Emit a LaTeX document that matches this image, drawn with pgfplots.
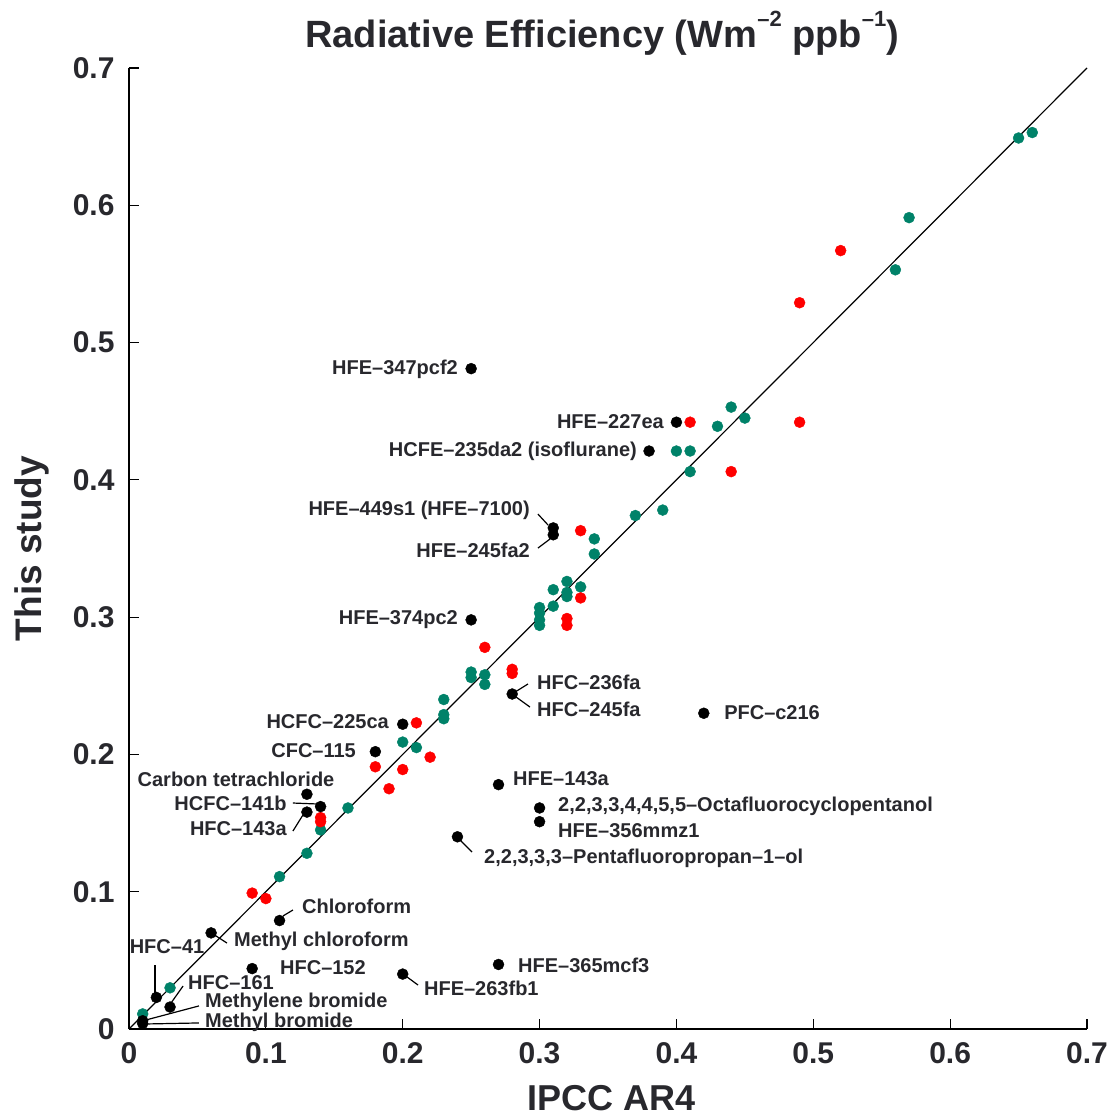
\documentclass[border=0pt]{standalone}
\usepackage{fontspec}
\setmainfont{Liberation Sans}
\usepackage{pgfplots}
\pgfplotsset{compat=1.18}
\definecolor{tealdot}{RGB}{0,130,105}
\definecolor{reddot}{RGB}{255,0,0}
\definecolor{txt}{RGB}{40,40,45}
\newcommand{\lbl}{\fontsize{20}{24}\selectfont\bfseries}
\newcommand{\sups}[1]{\raisebox{0.55em}{\fontsize{22}{24}\selectfont #1}}
\begin{document}
\begin{tikzpicture}
\begin{axis}[
  scale only axis, width=958pt, height=961pt,
  xmin=0, xmax=0.7, ymin=0, ymax=0.7,
  axis lines=left, axis line style={-, line width=1.1pt, black},
  xtick={0,0.1,0.2,0.3,0.4,0.5,0.6,0.7},
  ytick={0,0.1,0.2,0.3,0.4,0.5,0.6,0.7},
  xticklabels={0,0.1,0.2,0.3,0.4,0.5,0.6,0.7},
  yticklabels={0,0.1,0.2,0.3,0.4,0.5,0.6,0.7},
  tick align=inside, major tick length=10pt,
  tick style={line width=1.1pt, black},
  ticklabel style={font=\fontsize{30}{34}\selectfont\bfseries, text=txt},
  xticklabel style={yshift=-10pt},
  yticklabel style={xshift=-11pt},
  clip=false,
  title={Radiative Efficiency (Wm\sups{--2} ppb\sups{--1})},
  title style={at={(axis description cs:0.494,1.030)}, anchor=center,
    font=\fontsize{38}{44}\selectfont\bfseries, text=txt},
  xlabel={IPCC AR4},
  ylabel={This study},
  every axis x label/.style={at={(axis description cs:0.504,-0.0718)}, anchor=center,
    font=\fontsize{36}{42}\selectfont\bfseries, text=txt},
  every axis y label/.style={at={(axis description cs:-0.1013,0.5)}, anchor=center, rotate=90,
    font=\fontsize{37}{42}\selectfont\bfseries, text=txt},
]
\addplot[black, line width=1.2pt] coordinates {(0,0) (0.7,0.7)};

% leader lines
\begin{scope}[line width=1.2pt, black]
\draw (axis cs:0.2988,0.3751) -- (axis cs:0.3062,0.3671);
\draw (axis cs:0.2988,0.3503) -- (axis cs:0.3076,0.3569);
\draw (axis cs:0.2798,0.2440) -- (axis cs:0.2915,0.2513);
\draw (axis cs:0.2798,0.2440) -- (axis cs:0.2930,0.2345);
\draw (axis cs:0.1198,0.1646) -- (axis cs:0.1374,0.1639);
\draw (axis cs:0.1198,0.1442) -- (axis cs:0.1271,0.1559);
\draw (axis cs:0.2397,0.1398) -- (axis cs:0.2506,0.1289);
\draw (axis cs:0.1125,0.0823) -- (axis cs:0.1198,0.0867);
\draw (axis cs:0.0592,0.0706) -- (axis cs:0.0716,0.0626);
\draw (axis cs:0.2002,0.0401) -- (axis cs:0.2112,0.0320);
\draw (axis cs:0.0190,0.0466) -- (axis cs:0.0190,0.0240);
\draw (axis cs:0.0395,0.0313) -- (axis cs:0.0292,0.0168);
\draw (axis cs:0.0511,0.0168) -- (axis cs:0.0095,0.0058);
\draw (axis cs:0.0511,0.0044) -- (axis cs:0.0095,0.0036);
\end{scope}

% teal points
\addplot[only marks, mark=*, mark size=5.5pt, color=tealdot, mark options={draw=tealdot, fill=tealdot}] coordinates {
(0.01,0.011) (0.03,0.030) (0.11,0.111) (0.13,0.128) (0.14,0.145) (0.16,0.161)
(0.20,0.209) (0.21,0.205) (0.23,0.240) (0.23,0.229) (0.23,0.226)
(0.25,0.260) (0.25,0.256) (0.26,0.258) (0.26,0.251)
(0.30,0.307) (0.30,0.303) (0.30,0.298) (0.30,0.294)
(0.31,0.320) (0.31,0.308) (0.32,0.326) (0.32,0.318) (0.32,0.315) (0.33,0.322)
(0.34,0.357) (0.34,0.346) (0.37,0.374) (0.39,0.378)
(0.40,0.421) (0.41,0.421) (0.41,0.406) (0.43,0.439) (0.44,0.453) (0.45,0.445)
(0.56,0.553) (0.57,0.591) (0.65,0.649) (0.66,0.653)
};
% red points
\addplot[only marks, mark=*, mark size=5.5pt, color=reddot, mark options={draw=reddot, fill=reddot}] coordinates {
(0.09,0.099) (0.10,0.095) (0.14,0.154) (0.14,0.151) (0.18,0.191) (0.19,0.175)
(0.20,0.189) (0.21,0.223) (0.22,0.198) (0.26,0.278) (0.28,0.262) (0.28,0.259)
(0.32,0.299) (0.32,0.294) (0.33,0.363) (0.33,0.314) (0.41,0.442) (0.44,0.406)
(0.49,0.442) (0.49,0.529) (0.52,0.567)
};
% black points
\addplot[only marks, mark=*, mark size=5.5pt, color=black, mark options={draw=black, fill=black}] coordinates {
(0.25,0.481) (0.40,0.442) (0.38,0.421) (0.31,0.365) (0.31,0.360) (0.25,0.298)
(0.28,0.244) (0.42,0.230) (0.20,0.222) (0.18,0.202) (0.13,0.171) (0.14,0.162)
(0.13,0.158) (0.27,0.178) (0.30,0.161) (0.30,0.151) (0.24,0.140) (0.11,0.079)
(0.06,0.070) (0.09,0.044) (0.20,0.040) (0.27,0.047) (0.02,0.023) (0.03,0.016)
(0.01,0.006) (0.01,0.004)
};

% labels
\begin{scope}[every node/.style={font=\lbl, text=txt, inner sep=0pt}]
\node[anchor=east] at (axis cs:0.2404,0.4807) {HFE--347pcf2};
\node[anchor=east] at (axis cs:0.3909,0.4421) {HFE--227ea};
\node[anchor=east] at (axis cs:0.3712,0.4210) {HCFE--235da2 (isoflurane)};
\node[anchor=east] at (axis cs:0.2930,0.3780) {HFE--449s1 (HFE--7100)};
\node[anchor=east] at (axis cs:0.2930,0.3489) {HFE--245fa2};
\node[anchor=east] at (axis cs:0.2404,0.2979) {HFE--374pc2};
\node[anchor=west] at (axis cs:0.2981,0.2527) {HFC--236fa};
\node[anchor=west] at (axis cs:0.2981,0.2331) {HFC--245fa};
\node[anchor=west] at (axis cs:0.4348,0.2302) {PFC--c216};
\node[anchor=east] at (axis cs:0.1900,0.2236) {HCFC--225ca};
\node[anchor=east] at (axis cs:0.1659,0.2025) {CFC--115};
\node[anchor=center] at (axis cs:0.0782,0.1821) {Carbon tetrachloride};
\node[anchor=east] at (axis cs:0.1154,0.1646) {HCFC--141b};
\node[anchor=east] at (axis cs:0.1154,0.1457) {HFC--143a};
\node[anchor=west] at (axis cs:0.2806,0.1821) {HFE--143a};
\node[anchor=west] at (axis cs:0.3135,0.1624) {2,2,3,3,4,4,5,5--Octafluorocyclopentanol};
\node[anchor=west] at (axis cs:0.3135,0.1442) {HFE--356mmz1};
\node[anchor=west] at (axis cs:0.2594,0.1245) {2,2,3,3,3--Pentafluoropropan--1--ol};
\node[anchor=west] at (axis cs:0.1264,0.0896) {Chloroform};
\node[anchor=west] at (axis cs:0.0767,0.0641) {Methyl chloroform};
\node[anchor=west] at (axis cs:0.1103,0.0444) {HFC--152};
\node[anchor=west] at (axis cs:0.2155,0.0299) {HFE--263fb1};
\node[anchor=west] at (axis cs:0.2842,0.0466) {HFE--365mcf3};
\node[anchor=center] at (axis cs:0.0278,0.0597) {HFC--41};
\node[anchor=west] at (axis cs:0.0431,0.0335) {HFC--161};
\node[anchor=west] at (axis cs:0.0555,0.0192) {Methylene bromide};
\node[anchor=west] at (axis cs:0.0555,0.0051) {Methyl bromide};
\end{scope}
\end{axis}
\pgfresetboundingbox
\path[use as bounding box] (-129pt,-87pt) rectangle (985pt,1029pt);
\end{tikzpicture}
\end{document}
